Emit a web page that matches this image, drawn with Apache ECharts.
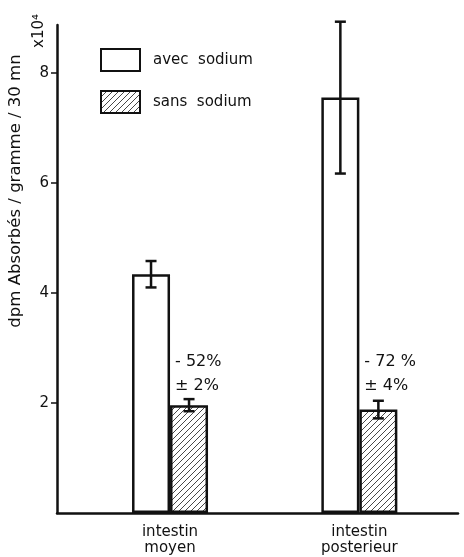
<!DOCTYPE html>
<html>
<head>
<meta charset="utf-8">
<script src="https://cdn.jsdelivr.net/npm/echarts@6/dist/echarts.min.js"></script>
<style>
  html, body { margin: 0; padding: 0; background: #fff; }
  #main { width: 464px; height: 557px; }
</style>
</head>
<body>
<div id="main"></div>
<script>
// data (x10^4 dpm)
var categories = ['intestin\nmoyen', 'intestin\nposterieur'];
var avecSodium = [4.34, 7.55];
var avecErr = [0.24, 1.38];
var sansSodium = [1.96, 1.88];
var sansErr = [0.11, 0.16];
var reduction = ['- 52%', '- 72 %'];
var reductionErr = ['± 2%', '± 4%'];
var yTicks = [2, 4, 6, 8];

var FONT = 'DejaVu Sans';
var INK = '#111';
var BAR_W = 38;

// hatch pattern for "sans sodium"
function hatch() {
    var c = document.createElement('canvas');
    c.width = 6; c.height = 6;
    var g = c.getContext('2d');
    g.fillStyle = '#fff';
    g.fillRect(0, 0, 6, 6);
    g.strokeStyle = '#333';
    g.lineWidth = 0.9;
    g.beginPath();
    g.moveTo(0, 6); g.lineTo(6, 0);
    g.moveTo(-1, 1); g.lineTo(1, -1);
    g.moveTo(5, 7); g.lineTo(7, 5);
    g.stroke();
    return c;
}
var hatchFill = { image: hatch(), repeat: 'repeat' };

var myChart = echarts.init(document.getElementById('main'));

function errBars(vals, errs, side) {
    return vals.map(function (v, i) { return [i, v, errs[i], side]; });
}

function renderErr(params, api) {
    var cat = api.value(0), v = api.value(1), e = api.value(2), side = api.value(3);
    var x = api.coord([cat, v])[0] + side * BAR_W / 2;
    var yt = api.coord([cat, v + e])[1];
    var yb = api.coord([cat, v - e])[1];
    var st = { stroke: INK, lineWidth: 2.5 };
    return {
        type: 'group',
        children: [
            { type: 'line', shape: { x1: x, y1: yt, x2: x, y2: yb }, style: st },
            { type: 'line', shape: { x1: x - 5.5, y1: yt, x2: x + 5.5, y2: yt }, style: st },
            { type: 'line', shape: { x1: x - 5.5, y1: yb, x2: x + 5.5, y2: yb }, style: st }
        ]
    };
}

function renderNote(params, api) {
    var i = params.dataIndex;
    var p = api.coord([api.value(0), 2.75]);
    var ts = { fill: INK, font: '16px "' + FONT + '"', textAlign: 'left', textVerticalAlign: 'middle' };
    return {
        type: 'group',
        children: [
            { type: 'text', x: p[0] + 5, y: p[1], style: Object.assign({ text: reduction[i] }, ts) },
            { type: 'text', x: p[0] + 5, y: p[1] + 24, style: Object.assign({ text: reductionErr[i] }, ts) }
        ]
    };
}

var option = {
    animation: false,
    backgroundColor: '#fff',
    grid: { left: 57, right: 6, top: 25, bottom: 44 },
    legend: {
        orient: 'vertical',
        left: 95, top: 43,
        itemWidth: 39, itemHeight: 22, itemGap: 18,
        icon: 'rect',
        textStyle: { fontFamily: FONT, fontSize: 15, color: INK, padding: [0, 0, 0, 8] },
        data: ['avec  sodium', 'sans  sodium']
    },
    xAxis: {
        type: 'value',
        min: -0.597, max: 1.521,
        splitLine: { show: false },
        axisLine: { show: true, onZero: false, lineStyle: { color: INK, width: 2.5 } },
        axisTick: { show: false },
        axisLabel: {
            customValues: [0, 1],
            formatter: function (v) { return categories[Math.round(v)]; },
            fontFamily: FONT, fontSize: 15, color: INK, lineHeight: 16, margin: 11
        }
    },
    yAxis: {
        type: 'value',
        min: 0, max: 8.87,
        splitLine: { show: false },
        axisLine: { show: true, onZero: false, lineStyle: { color: INK, width: 2.5 } },
        axisTick: { show: true, length: 6, customValues: yTicks, lineStyle: { color: INK, width: 1.5 } },
        axisLabel: { customValues: yTicks, fontFamily: FONT, fontSize: 15, color: INK, margin: 8 }
    },
    graphic: [
        {
            type: 'text', x: 16, y: 191, rotation: Math.PI / 2,
            style: { text: 'dpm Absorbés / gramme / 30 mn', fill: INK, font: '16.5px "' + FONT + '"', textAlign: 'center', textVerticalAlign: 'middle' }
        },
        {
            type: 'text', x: 39, y: 31, rotation: Math.PI / 2,
            style: { text: 'x10⁴', fill: INK, font: '15px "' + FONT + '"', textAlign: 'center', textVerticalAlign: 'middle' }
        }
    ],
    series: [
        {
            name: 'avec  sodium', type: 'bar',
            barWidth: BAR_W, barGap: '0%',
            data: avecSodium.map(function (v, i) { return [i, v]; }),
            itemStyle: { color: '#fff', borderColor: INK, borderWidth: 2.5 }
        },
        {
            name: 'sans  sodium', type: 'bar',
            barWidth: BAR_W, barGap: '0%',
            data: sansSodium.map(function (v, i) { return [i, v]; }),
            itemStyle: { color: hatchFill, borderColor: INK, borderWidth: 2.5 }
        },
        { type: 'custom', renderItem: renderErr, data: errBars(avecSodium, avecErr, -1), z: 5, clip: false },
        { type: 'custom', renderItem: renderErr, data: errBars(sansSodium, sansErr, 1), z: 5, clip: false },
        { type: 'custom', renderItem: renderNote, data: [[0], [1]], z: 5 }
    ]
};

myChart.setOption(option, true);
</script>
</body>
</html>
